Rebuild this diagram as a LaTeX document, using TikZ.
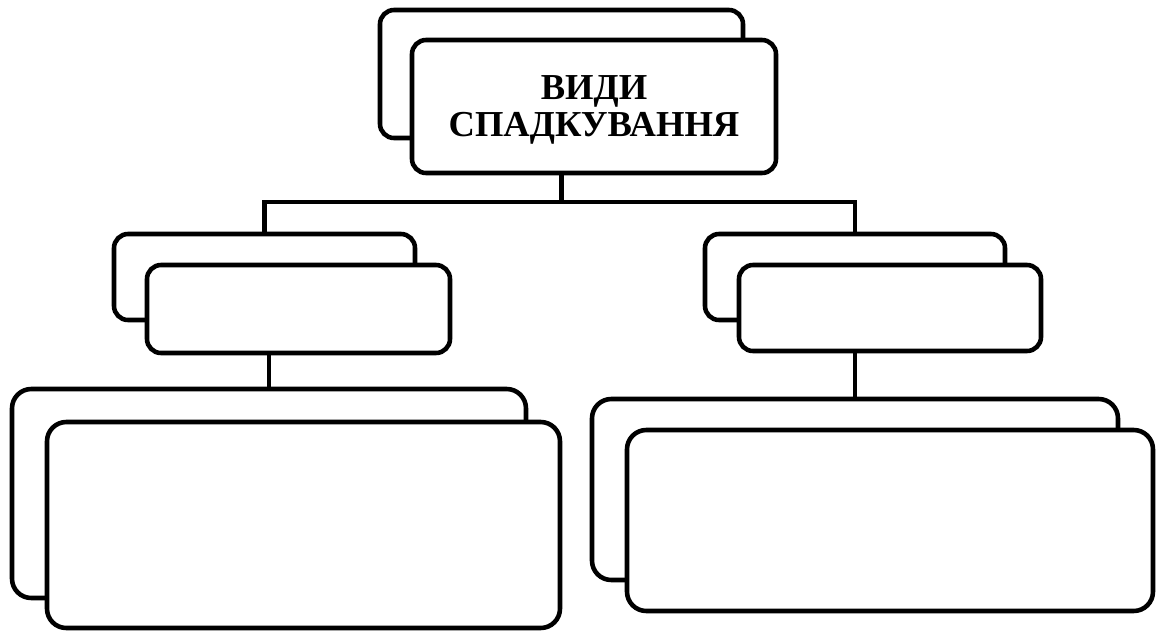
\documentclass[tikz,border=0pt]{standalone}
\usepackage{fontspec}
\setmainfont{Liberation Serif}
\usetikzlibrary{calc}

\tikzset{
    card/.style={
        draw=black,
        fill=white,
        line width=2.6pt,
        rounded corners=8pt,
        inner sep=0pt
    },
    bigcard/.style={
        card,
        rounded corners=11pt
    },
    link/.style={
        black,
        line width=2.6pt
    }
}

\begin{document}
\begin{tikzpicture}[x=0.02cm,y=-0.02cm]

    % -------------------------------------------------
    % Page frame (pixel units, y running downwards)
    % -------------------------------------------------
    \useasboundingbox (0,0) rectangle (1167,633);
    \fill[white] (0,0) rectangle (1167,633);

    % -------------------------------------------------
    % Top pair of cards
    % -------------------------------------------------
    \node[card, minimum width=363*0.02cm, minimum height=128*0.02cm]
        (topback) at (561.5,74) {};
    \node[card, minimum width=364*0.02cm, minimum height=133*0.02cm]
        (topfront) at (594,106.5) {};
    \node[align=center, inner sep=0pt,
          font=\bfseries\fontsize{20.8}{21.5}\selectfont]
        (toptext) at (594,110) {ВИДИ\\СПАДКУВАННЯ};

    % -------------------------------------------------
    % Middle pairs
    % -------------------------------------------------
    \node[card, minimum width=301*0.02cm, minimum height=86*0.02cm]
        (midleftback) at (264.5,277) {};
    \node[card, minimum width=303*0.02cm, minimum height=88*0.02cm]
        (midleftfront) at (298.5,309) {};

    \node[card, minimum width=300*0.02cm, minimum height=86*0.02cm]
        (midrightback) at (855,277) {};
    \node[card, minimum width=302*0.02cm, minimum height=86*0.02cm]
        (midrightfront) at (890,308) {};

    % -------------------------------------------------
    % Bottom pairs
    % -------------------------------------------------
    \node[bigcard, minimum width=514*0.02cm, minimum height=209*0.02cm]
        (lowleftback) at (269,493.5) {};
    \node[bigcard, minimum width=513*0.02cm, minimum height=206*0.02cm]
        (lowleftfront) at (303.5,525) {};

    \node[bigcard, minimum width=526*0.02cm, minimum height=181*0.02cm]
        (lowrightback) at (855,489.5) {};
    \node[bigcard, minimum width=526*0.02cm, minimum height=181*0.02cm]
        (lowrightfront) at (890,520.5) {};

    % -------------------------------------------------
    % Connectors
    %
    % They leave the front card and meet the back card
    % below, lined up with the back cards' centres.
    % -------------------------------------------------
    \coordinate (fork) at (topback |- 0,202);
    \draw[link] (topback |- topfront.south) -- (fork);
    \draw[link] (midleftback.north) |- (fork) -| (midrightback.north);

    \draw[link] (lowleftback |- midleftfront.south) -- (lowleftback.north);
    \draw[link] (midrightback |- midrightfront.south) -- (lowrightback.north);

\end{tikzpicture}
\end{document}
